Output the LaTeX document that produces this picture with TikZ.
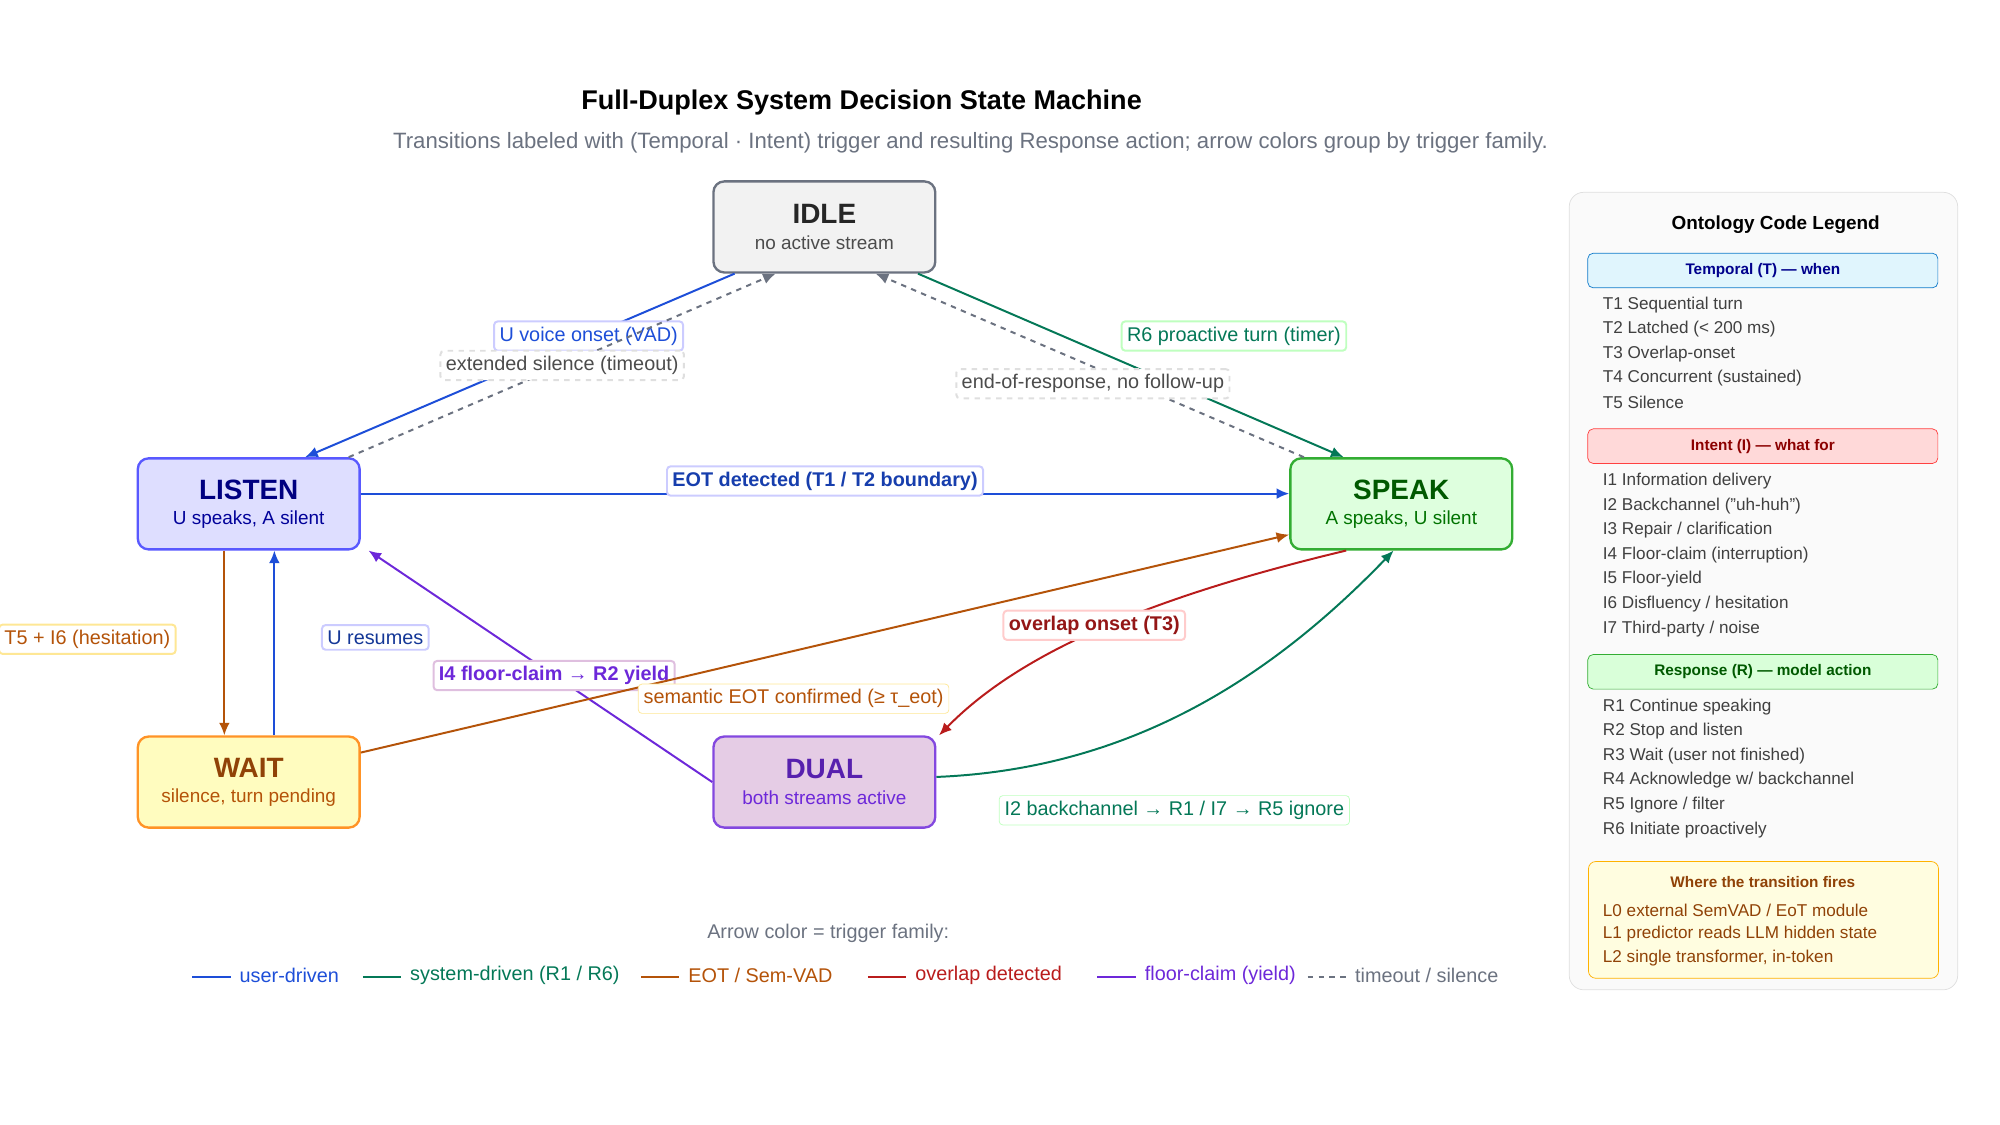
\documentclass[tikz,border=0pt]{standalone}
\usepackage{fontspec}
\setmainfont{Liberation Sans}
\usetikzlibrary{calc,arrows.meta,positioning}
\definecolor{cUser}{HTML}{1D4ED8}
\definecolor{cSys}{HTML}{047857}
\definecolor{cEot}{HTML}{B45309}
\definecolor{cOvl}{HTML}{B91C1C}
\definecolor{cFloor}{HTML}{6D28D9}
\definecolor{cTime}{HTML}{6B7280}
\tikzset{
  state/.style={draw,line width=1.3pt,rounded corners=6pt,minimum width=4.325cm,
    minimum height=1.775cm,align=center,font=\fontsize{10.5}{13}\selectfont},
  lbl/.style={draw,fill=white,rounded corners=2pt,inner sep=3pt,
    font=\fontsize{11}{13}\selectfont},
  tr/.style={line width=1.1pt,-{Latex[length=7pt,width=6pt]}},
  hdr/.style={draw,rounded corners=3pt,minimum width=6.825cm,minimum height=0.675cm,
    font=\bfseries\fontsize{8.5}{10}\selectfont},
  item/.style={anchor=west,inner sep=0pt,text=black!75,font=\fontsize{9.5}{11}\selectfont},
}
\begin{document}
\begin{tikzpicture}[x=0.025cm,y=-0.025cm]
  \useasboundingbox (0,0) rectangle (1560,877);
  %
  % Title
  \node (title) at (672,80) {\bfseries\fontsize{15}{18}\selectfont Full-Duplex System Decision State Machine};
  \node[text=cTime] (sub) at (757,111) {\fontsize{12.3}{15}\selectfont Transitions labeled with (Temporal · Intent) trigger and resulting Response action; arrow colors group by trigger family.};
  %
  % States
  \node[state,fill=gray!10,draw=cTime] (idle) at (643,177)
    {{\bfseries\fontsize{15.5}{18}\selectfont\color{black!85}IDLE}\\[1pt]\color{black!70}no active stream};
  \node[state,fill=blue!13,draw=blue!65] (listen) at (194,393)
    {{\bfseries\fontsize{15.5}{18}\selectfont\color{blue!50!black}LISTEN}\\[1pt]\color{blue!60!black}U speaks, A silent};
  \node[state,fill=green!13,draw=green!60!black!80] (speak) at (1093,393)
    {{\bfseries\fontsize{15.5}{18}\selectfont\color{green!35!black}SPEAK}\\[1pt]\color{green!45!black}A speaks, U silent};
  \node[state,fill=yellow!25,draw=orange!85] (wait) at (194,610)
    {{\bfseries\fontsize{15.5}{18}\selectfont\color{cEot!80!black}WAIT}\\[1pt]\color{cEot}silence, turn pending};
  \node[state,fill=violet!20,draw=cFloor!85] (dual) at (643,610)
    {{\bfseries\fontsize{15.5}{18}\selectfont\color{cFloor!80!black}DUAL}\\[1pt]\color{cFloor}both streams active};
  %
  % Transitions
  \draw[tr,cUser] ($(idle.south)+(-70,0)$) -- ($(listen.north)+(44,0)$)
    node[lbl,draw=blue!20,text=cUser,pos=0.34] {U voice onset (VAD)};
  \draw[tr,cTime,dashed] ($(listen.north)+(78,0)$) -- ($(idle.south)+(-38,0)$)
    node[lbl,draw=gray!25,text=black!70,pos=0.5] {extended silence (timeout)};
  \draw[tr,cSys] ($(idle.south)+(73,0)$) -- ($(speak.north)+(-45,0)$)
    node[lbl,draw=green!25,text=cSys,pos=0.34,xshift=95] {R6 proactive turn (timer)};
  \draw[tr,cTime,dashed] ($(speak.north)+(-76,0)$) -- ($(idle.south)+(40,0)$)
    node[lbl,draw=gray!25,text=black!70,pos=0.4,xshift=-22] {end-of-response, no follow-up};
  \draw[tr,cUser] ($(listen.east)+(0,-8)$) -- ($(speak.west)+(0,-8)$)
    node[lbl,draw=blue!20,text=cUser!80!black,pos=0.5,yshift=7,font=\bfseries\fontsize{11}{13}\selectfont] {EOT detected (T1 / T2 boundary)};
  \draw[tr,cEot] ($(listen.south)+(-19,0)$) -- ($(wait.north)+(-19,0)$)
    node[lbl,draw=yellow!60!orange!40,text=cEot,pos=0.48,xshift=-76] {T5 + I6 (hesitation)};
  \draw[tr,cUser] ($(wait.north)+(20,0)$) -- ($(listen.south)+(20,0)$)
    node[lbl,draw=blue!20,text=cUser!70!black,pos=0.53,xshift=56] {U resumes};
  \draw[tr,cFloor] (dual.west) -- ($(listen.south east)+(6,0)$)
    node[lbl,draw=violet!25,text=cFloor,pos=0.46,font=\bfseries\fontsize{11}{13}\selectfont] {I4 floor-claim → R2 yield};
  \draw[tr,cEot] ($(wait.east)+(0,-23)$) -- ($(speak.west)+(0,24)$);
  \node[lbl,draw=yellow!60!orange!40,text=cEot] (semlbl) at (619,545) {semantic EOT confirmed (≥ τ\_eot)};
  \draw[tr,cOvl] ($(speak.south)+(-43,0)$) .. controls (880,470) and (790,515) .. ($(dual.north east)+(2,0)$)
    node[lbl,draw=red!20,text=cOvl!80!black,pos=0.45,font=\bfseries\fontsize{11}{13}\selectfont,xshift=-8] {overlap onset (T3)};
  \draw[tr,cSys] ($(dual.east)+(0,-4)$) .. controls (880,600) and (990,530) .. ($(speak.south)+(-6,0)$);
  \node[lbl,draw=green!25,text=cSys] (bclbl) at (916,632) {I2 backchannel → R1 / I7 → R5 ignore};
  %
  % Color key
  \node[text=cTime,font=\fontsize{11}{13}\selectfont] (keyttl) at (646,728) {Arrow color = trigger family:};
  \foreach \x/\c/\t/\d in {150/cUser/{user-driven}/solid, 283/cSys/{system-driven (R1 / R6)}/solid,
      500/cEot/{EOT / Sem-VAD}/solid, 677/cOvl/{overlap detected}/solid,
      856/cFloor/{floor-claim (yield)}/solid, 1020/cTime/{timeout / silence}/dashed}{
    \draw[\c,line width=1.3pt,\d] (\x,762) -- ++(30,0);
    \node[anchor=west,text=\c,font=\fontsize{11}{13}\selectfont] at (\x+32,761) {\t};
  }
  %
  % Legend panel
  \draw[gray!25,fill=gray!4,rounded corners=8pt] (1224,150) rectangle (1527,772);
  \node[font=\bfseries\fontsize{10.5}{12}\selectfont] (legttl) at (1385,175) {Ontology Code Legend};
  \node[hdr,fill=cyan!12,draw=cyan!60!blue,text=blue!55!black] (hT) at (1375,211) {Temporal (T) — when};
  \foreach \t [count=\i] in {T1 Sequential turn,T2 Latched (< 200 ms),T3 Overlap-onset,
      T4 Concurrent (sustained),T5 Silence}
    \node[item] at (1250,219+19*\i) {\t};
  \node[hdr,fill=red!15,draw=red!75,text=red!55!black] (hI) at (1375,348) {Intent (I) — what for};
  \foreach \t [count=\i] in {I1 Information delivery,I2 Backchannel ("uh-huh"),I3 Repair / clarification,
      I4 Floor-claim (interruption),I5 Floor-yield,I6 Disfluency / hesitation,I7 Third-party / noise}
    \node[item] at (1250,356+19.2*\i) {\t};
  \node[hdr,fill=green!15,draw=green!60!black!80,text=green!35!black] (hR) at (1375,524) {Response (R) — model action};
  \foreach \t [count=\i] in {R1 Continue speaking,R2 Stop and listen,R3 Wait (user not finished),
      R4 Acknowledge w/ backchannel,R5 Ignore / filter,R6 Initiate proactively}
    \node[item] at (1250,532+19.2*\i) {\t};
  \draw[orange!60!yellow,fill=yellow!12,rounded corners=4pt] (1239,672) rectangle (1512,763);
  \node[font=\bfseries\fontsize{8.5}{10}\selectfont,text=cEot!80!black] (hW) at (1375,688) {Where the transition fires};
  \foreach \t [count=\i] in {L0 external SemVAD / EoT module,L1 predictor reads LLM hidden state,
      {L2 single transformer, in-token}}
    \node[item,text=cEot!80!black] at (1250,691+18.7*\i) {\t};
\end{tikzpicture}
\end{document}
